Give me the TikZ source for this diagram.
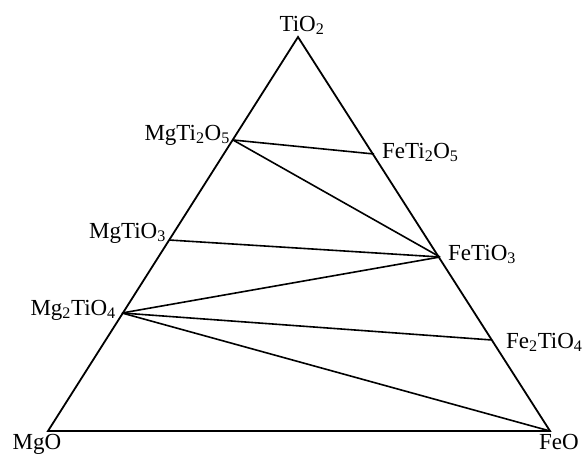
\documentclass[tikz,border=0pt]{standalone}
\usepackage{fontspec}
\setmainfont{Liberation Serif}
\usetikzlibrary{positioning}
\tikzset{
phaselabel/.style={inner sep=0pt, font=\fontsize{23}{27}\selectfont},
sideline/.style={line width=1.8pt, draw=black, line join=miter},
tieline/.style={line width=1.6pt, draw=black}
}
\begin{document}
\begin{tikzpicture}[x=1pt,y=-1pt]
\useasboundingbox (0,0) rectangle (582,455);
% corners
\coordinate (tio2) at (298,37);
\coordinate (mgo) at (48,431);
\coordinate (feo) at (550,431);
% phases on the sides
\coordinate (mgti2o5) at (233,140);
\coordinate (mgtio3) at (169,240);
\coordinate (mg2tio4) at (122,313);
\coordinate (feti2o5) at (374,154);
\coordinate (fetio3) at (440,257);
\coordinate (fe2tio4) at (492,340);
\draw[sideline] (tio2) -- (mgo) -- (feo) -- cycle;
\foreach \a/\b in {mgti2o5/feti2o5,mgti2o5/fetio3,mgtio3/fetio3,mg2tio4/fetio3,mg2tio4/fe2tio4,mg2tio4/feo}
\draw[tieline] (\a) -- (\b);
% labels
\node[phaselabel, above=2pt of tio2, xshift=4pt] (ltio2) {TiO\textsubscript{2}};
\node[phaselabel, anchor=base, xshift=-11pt, yshift=-18pt] (lmgo) at (mgo) {MgO};
\node[phaselabel, anchor=base, xshift=9pt, yshift=-18pt] (lfeo) at (feo) {FeO};
\node[phaselabel, anchor=base east, xshift=-3pt] (lmgti2o5) at (mgti2o5) {MgTi\textsubscript{2}O\textsubscript{5}};
\node[phaselabel, anchor=base east, xshift=-3pt, yshift=2pt] (lmgtio3) at (mgtio3) {MgTiO\textsubscript{3}};
\node[phaselabel, anchor=base east, xshift=-6pt, yshift=-2pt] (lmg2tio4) at (mg2tio4) {Mg\textsubscript{2}TiO\textsubscript{4}};
\node[phaselabel, anchor=base west, xshift=8pt, yshift=-4pt] (lfeti2o5) at (feti2o5) {FeTi\textsubscript{2}O\textsubscript{5}};
\node[phaselabel, anchor=base west, xshift=8pt, yshift=-3pt] (lfetio3) at (fetio3) {FeTiO\textsubscript{3}};
\node[phaselabel, anchor=base west, xshift=14pt, yshift=-8pt] (lfe2tio4) at (fe2tio4) {Fe\textsubscript{2}TiO\textsubscript{4}};
\end{tikzpicture}
\end{document}
